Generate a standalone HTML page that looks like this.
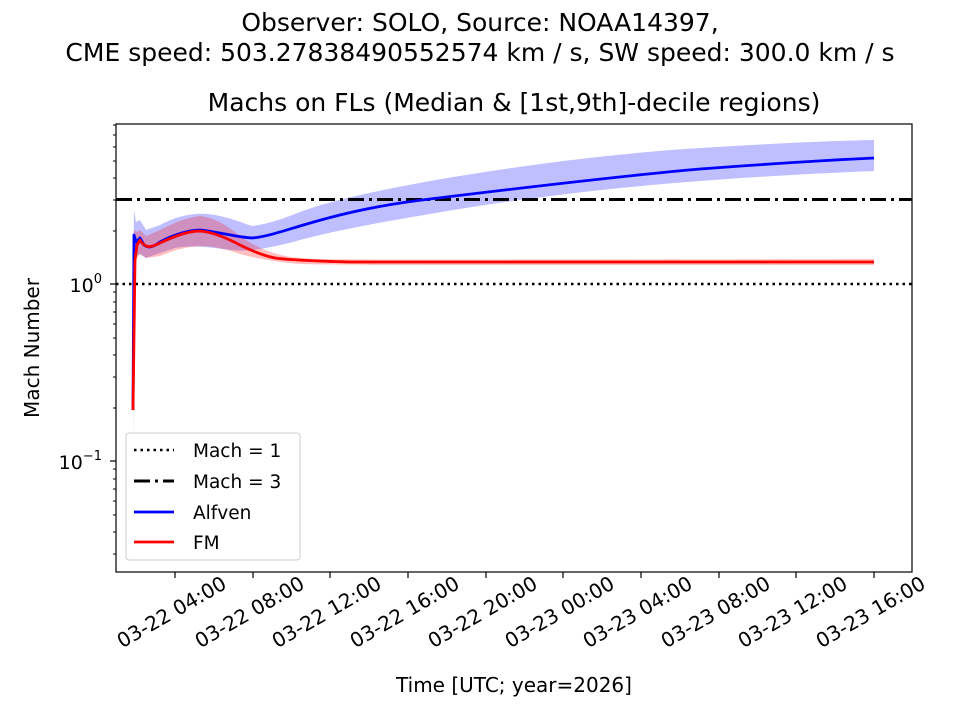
<!DOCTYPE html>
<html><head><style>body{margin:0;background:#fff}</style></head><body>
<svg width="960" height="720" xmlns="http://www.w3.org/2000/svg" font-family="DejaVu Sans, Liberation Sans, sans-serif">
<rect width="960" height="720" fill="#fff"/>
<text x="480" y="31" text-anchor="middle" font-size="25">Observer: SOLO, Source: NOAA14397,</text>
<text x="480" y="61" text-anchor="middle" font-size="25">CME speed: 503.27838490552574 km / s, SW speed: 300.0 km / s</text>
<text x="514" y="111" text-anchor="middle" font-size="25">Machs on FLs (Median &amp; [1st,9th]-decile regions)</text>
<defs><clipPath id="c"><rect x="116" y="124" width="796" height="448"/></clipPath></defs>
<g clip-path="url(#c)">
<path d="M133,300 L134,210 L136,222 L140,220 L146,230 L160,225 C180,214 200,212 215,215 C235,219 245,224 252,226 C270,224 290,216 300,212 C330,201 370,192 430,181 C520,165 620,153 700,148 C780,143 830,141 874,140 L874,171 C830,173 780,175 700,181 C620,187 520,198 430,214 C370,224 330,232 300,240 C290,243 270,248 252,250 C245,251 235,251 215,248 C200,246 185,246 175,248 L160,253 L146,258 L140,254 L136,256 L134,260 L133,440 Z" fill="#0000ff" fill-opacity="0.25"/>
<path d="M133,300 L134,230 L137,232 L140,230 L146,236 L160,230 C175,222 190,217 200,216 C215,218 225,224 240,236 C255,247 275,256 300,258 C320,260 350,260 874,259 L874,265 C350,265 320,265 300,264 C275,262 255,258 240,254 C225,249 215,246 200,246 C185,247 175,250 160,256 L146,258 L140,254 L137,258 L134,268 L133,440 Z" fill="#ff0000" fill-opacity="0.25"/>
<line x1="116" y1="284" x2="912" y2="284" stroke="#000" stroke-width="2.5" stroke-dasharray="2.5,4"/>
<line x1="116" y1="199.5" x2="912" y2="199.5" stroke="#000" stroke-width="3" stroke-dasharray="16,5,3,5"/>
<path d="M133,410 L134,235 L136,242 L140,238 L144,245 C148,248 152,248 160,242 C175,234 190,230 200,230 C220,232 235,237 252,238 C265,237 280,232 300,226 C330,217 370,206 430,199 C520,188 620,176 700,169 C780,163 830,160 874,158" fill="none" stroke="#0000ff" stroke-width="2.8" stroke-linejoin="round"/>
<path d="M133,410 L135,260 L137,245 L140,240 L142,243 L146,246 C148,247 152,247 160,243 C175,236 188,231 200,231 C212,232 225,237 240,245 C252,251 265,256 275,258 C290,260 310,261 350,262 L874,262" fill="none" stroke="#ff0000" stroke-width="2.8" stroke-linejoin="round"/>
</g>
<rect x="116" y="124" width="796" height="448" fill="none" stroke="#000" stroke-width="1.2"/>
<g stroke="#000" stroke-width="1">
<line x1="116" y1="284" x2="110" y2="284" stroke-width="1.2"/><line x1="116" y1="461" x2="110" y2="461" stroke-width="1.2"/>
<line x1="116" y1="231" x2="113" y2="231"/><line x1="116" y1="200" x2="113" y2="200"/><line x1="116" y1="178" x2="113" y2="178"/><line x1="116" y1="161" x2="113" y2="161"/><line x1="116" y1="147" x2="113" y2="147"/><line x1="116" y1="135" x2="113" y2="135"/><line x1="116" y1="125" x2="113" y2="125"/>
<line x1="116" y1="408" x2="113" y2="408"/><line x1="116" y1="377" x2="113" y2="377"/><line x1="116" y1="355" x2="113" y2="355"/><line x1="116" y1="338" x2="113" y2="338"/><line x1="116" y1="324" x2="113" y2="324"/><line x1="116" y1="312" x2="113" y2="312"/><line x1="116" y1="302" x2="113" y2="302"/><line x1="116" y1="292" x2="113" y2="292"/>
<line x1="116" y1="554" x2="113" y2="554"/><line x1="116" y1="532" x2="113" y2="532"/><line x1="116" y1="515" x2="113" y2="515"/><line x1="116" y1="501" x2="113" y2="501"/><line x1="116" y1="489" x2="113" y2="489"/><line x1="116" y1="479" x2="113" y2="479"/><line x1="116" y1="469" x2="113" y2="469"/>
</g>
<text x="102" y="292" text-anchor="end" font-size="19">10<tspan dy="-9" font-size="13">0</tspan></text>
<text x="102" y="469" text-anchor="end" font-size="19">10<tspan dy="-9" font-size="13">−1</tspan></text>
<text transform="translate(39,348) rotate(-90)" text-anchor="middle" font-size="20">Mach Number</text>
<g stroke="#000" stroke-width="1.2">
<line x1="175" y1="572" x2="175" y2="578"/><line x1="253" y1="572" x2="253" y2="578"/><line x1="330" y1="572" x2="330" y2="578"/><line x1="408" y1="572" x2="408" y2="578"/><line x1="486" y1="572" x2="486" y2="578"/><line x1="563" y1="572" x2="563" y2="578"/><line x1="641" y1="572" x2="641" y2="578"/><line x1="719" y1="572" x2="719" y2="578"/><line x1="796" y1="572" x2="796" y2="578"/><line x1="874" y1="572" x2="874" y2="578"/>
</g>
<g font-size="20" text-anchor="middle">
<text transform="translate(175,618) rotate(-30)">03-22 04:00</text>
<text transform="translate(253,618) rotate(-30)">03-22 08:00</text>
<text transform="translate(330,618) rotate(-30)">03-22 12:00</text>
<text transform="translate(408,618) rotate(-30)">03-22 16:00</text>
<text transform="translate(486,618) rotate(-30)">03-22 20:00</text>
<text transform="translate(563,618) rotate(-30)">03-23 00:00</text>
<text transform="translate(641,618) rotate(-30)">03-23 04:00</text>
<text transform="translate(719,618) rotate(-30)">03-23 08:00</text>
<text transform="translate(796,618) rotate(-30)">03-23 12:00</text>
<text transform="translate(874,618) rotate(-30)">03-23 16:00</text>
</g>
<text x="514" y="692" text-anchor="middle" font-size="20">Time [UTC; year=2026]</text>
<rect x="126" y="433" width="174" height="127" rx="3" fill="#fff" fill-opacity="0.8" stroke="#ccc"/>
<line x1="134" y1="450" x2="174" y2="450" stroke="#000" stroke-width="2.5" stroke-dasharray="2.5,4"/>
<line x1="134" y1="481" x2="174" y2="481" stroke="#000" stroke-width="3" stroke-dasharray="16,5,3,5"/>
<line x1="134" y1="512" x2="174" y2="512" stroke="#0000ff" stroke-width="2.8"/>
<line x1="134" y1="542" x2="174" y2="542" stroke="#ff0000" stroke-width="2.8"/>
<g font-size="18.5"><text x="193" y="457">Mach = 1</text><text x="193" y="488">Mach = 3</text><text x="193" y="519">Alfven</text><text x="193" y="549">FM</text></g>
</svg>
</body></html>
